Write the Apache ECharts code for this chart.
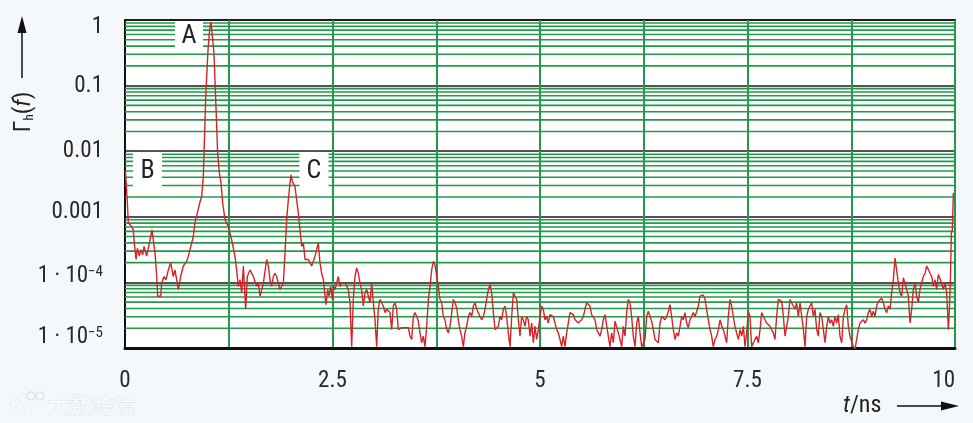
<!DOCTYPE html>
<html>
<head>
<meta charset="utf-8">
<title>Γh(f) over t</title>
<script src="https://cdn.jsdelivr.net/npm/echarts@6/dist/echarts.min.js"></script>
<style>
  html, body { margin: 0; padding: 0; background: #f5f8fb; }
  #chart { width: 973px; height: 423px; }
</style>
</head>
<body>
<div id="chart"></div>
<script>
// time axis in ns
const timeNs = [
  0.005, 0.020, 0.028, 0.040, 0.080, 0.100, 0.108, 0.120, 0.133, 0.149,
  0.173, 0.189, 0.213, 0.229, 0.261, 0.293, 0.325, 0.341, 0.365, 0.382,
  0.394, 0.430, 0.442, 0.470, 0.494, 0.522, 0.550, 0.582, 0.602, 0.643,
  0.671, 0.703, 0.743, 0.763, 0.803, 0.823, 0.843, 0.871, 0.904, 0.924,
  0.944, 0.952, 0.964, 0.976, 1.000, 1.016, 1.036, 1.052, 1.072, 1.096,
  1.116, 1.137, 1.157, 1.177, 1.205, 1.245, 1.285, 1.325, 1.345, 1.365,
  1.386, 1.406, 1.426, 1.454, 1.474, 1.506, 1.546, 1.586,

  1.606, 1.627, 1.647, 1.667, 1.687, 1.707, 1.727, 1.747, 1.767, 1.787,
  1.807, 1.827, 1.847, 1.867, 1.888, 1.908, 1.928, 1.948, 1.968, 1.988,
  2.000, 2.016, 2.032, 2.048, 2.068, 2.088, 2.108, 2.129, 2.149, 2.169,
  2.189, 2.209, 2.229, 2.249, 2.269, 2.289, 2.309, 2.329, 2.349, 2.369,
  2.390, 2.410, 2.422, 2.442, 2.458, 2.478, 2.498, 2.514, 2.530, 2.550,
  2.570, 2.590, 2.610, 2.631, 2.651, 2.671, 2.691, 2.711, 2.731, 2.751,
  2.771, 2.791, 2.811, 2.831, 2.851, 2.871, 2.892, 2.912, 2.932, 2.952,
  2.972, 2.992, 3.012, 3.032, 3.052, 3.072, 3.092, 3.112, 3.133, 3.153,
  3.173, 3.193, 3.213, 3.233, 3.253, 3.273, 3.293,

  3.313, 3.333, 3.353, 3.373, 3.394, 3.414, 3.434, 3.454, 3.474, 3.494,
  3.514, 3.534, 3.554, 3.574, 3.594, 3.614, 3.635, 3.655, 3.675, 3.695,
  3.715, 3.735, 3.755, 3.775, 3.795, 3.815, 3.835, 3.855, 3.876, 3.896,
  3.916, 3.936, 3.956, 3.976, 3.996, 4.016, 4.036, 4.056, 4.076, 4.096,
  4.116, 4.137, 4.157, 4.177, 4.197, 4.217, 4.237, 4.257, 4.277, 4.297,
  4.317, 4.337, 4.357, 4.378, 4.398, 4.418, 4.438, 4.458, 4.478, 4.498,
  4.518, 4.538, 4.558, 4.578, 4.598, 4.618, 4.639, 4.659, 4.679, 4.699,
  4.719, 4.739, 4.759, 4.779, 4.799, 4.819, 4.839, 4.859, 4.880, 4.900,
  4.920, 4.940, 4.960, 4.980,

  5.000, 5.020, 5.040, 5.060, 5.080, 5.100, 5.120, 5.141, 5.161, 5.181,
  5.201, 5.221, 5.241, 5.261, 5.281, 5.301, 5.321, 5.341, 5.361, 5.382,
  5.402, 5.422, 5.442, 5.462, 5.482, 5.502, 5.522, 5.542, 5.562, 5.582,
  5.602, 5.622, 5.643, 5.663, 5.683, 5.703, 5.723, 5.743, 5.763, 5.783,
  5.803, 5.823, 5.843, 5.863, 5.884, 5.904, 5.924, 5.944, 5.964, 5.984,
  6.004, 6.024, 6.044, 6.064, 6.084, 6.104, 6.124, 6.145, 6.165, 6.185,
  6.205, 6.225, 6.245, 6.265, 6.285, 6.305, 6.325, 6.345, 6.365, 6.386,
  6.406, 6.426, 6.446, 6.466, 6.486, 6.506, 6.526, 6.546, 6.566, 6.586,
  6.606, 6.627, 6.647, 6.667,

  6.687, 6.707, 6.727, 6.747, 6.767, 6.787, 6.807, 6.827, 6.847, 6.867,
  6.888, 6.908, 6.928, 6.948, 6.968, 6.988, 7.008, 7.028, 7.048, 7.068,
  7.088, 7.108, 7.129, 7.149, 7.169, 7.189, 7.209, 7.229, 7.249, 7.269,
  7.289, 7.309, 7.329, 7.349, 7.369, 7.390, 7.410, 7.430, 7.450, 7.470,
  7.490, 7.510, 7.530, 7.550, 7.570, 7.590, 7.610, 7.631, 7.651, 7.671,
  7.691, 7.711, 7.731, 7.751, 7.771, 7.791, 7.811, 7.831, 7.851, 7.871,
  7.892, 7.912, 7.932, 7.952, 7.972, 7.992, 8.012, 8.032, 8.052, 8.072,
  8.092, 8.112, 8.133, 8.153, 8.173, 8.193, 8.213, 8.233, 8.253, 8.273,
  8.293, 8.313, 8.333, 8.353,

  8.373, 8.394, 8.414, 8.434, 8.454, 8.474, 8.494, 8.514, 8.534, 8.554,
  8.574, 8.594, 8.614, 8.635, 8.655, 8.675, 8.695, 8.715, 8.735, 8.755,
  8.775, 8.795, 8.815, 8.835, 8.855, 8.876, 8.896, 8.916, 8.936, 8.956,
  8.976, 8.996, 9.016, 9.036, 9.056, 9.076, 9.096, 9.116, 9.137, 9.157,
  9.177, 9.197, 9.217, 9.237, 9.257, 9.277, 9.297, 9.317, 9.337, 9.357,
  9.378, 9.398, 9.418, 9.438, 9.458, 9.478, 9.498, 9.518, 9.538, 9.558,
  9.578, 9.598, 9.618, 9.639, 9.659, 9.679, 9.699, 9.719, 9.739, 9.759,
  9.779, 9.799, 9.819, 9.839, 9.859, 9.880, 9.900, 9.920, 9.932, 9.944,
  9.956, 9.968, 9.980, 9.988
];

// log10 of Γh(f) (same order as timeNs)
const gammaExp = [
  -2.30, -2.33, -2.77, -3.09, -3.15, -3.20, -3.35, -3.50, -3.65, -3.48,
  -3.60, -3.50, -3.58, -3.45, -3.60, -3.40, -3.20, -3.35, -3.60, -3.91,
  -4.21, -4.21, -4.01, -3.91, -3.96, -3.81, -3.70, -3.91, -3.81, -4.11,
  -3.91, -3.75, -3.68, -3.60, -3.40, -3.30, -3.09, -2.94, -2.77, -2.69,
  -2.38, -2.03, -1.52, -1.07, -0.46, -0.20, -0.03, -0.03, -0.51, -1.32,
  -2.03, -2.33, -2.49, -2.79, -3.04, -3.15, -3.35, -3.60, -3.81, -4.06,
  -3.96, -4.16, -3.75, -4.41, -3.91, -3.81, -3.91, -4.06,

  -4.01, -4.21, -4.24, -4.01, -4.01, -3.65, -3.75, -3.96, -4.06, -3.91,
  -3.86, -3.91, -4.01, -4.11, -4.13, -4.01, -3.55, -3.04, -2.74, -2.49,
  -2.36, -2.46, -2.44, -2.54, -2.54, -2.94, -3.20, -3.45, -3.40, -3.65,
  -3.63, -3.65, -3.70, -3.75, -3.78, -3.60, -3.50, -3.40, -3.70, -3.86,
  -3.96, -4.21, -4.34, -4.11, -4.21, -4.06, -4.26, -4.06, -4.11, -4.01,
  -3.91, -4.06, -4.01, -4.03, -4.01, -4.01, -4.11, -4.31, -4.98, -4.26,
  -3.91, -3.78, -3.86, -4.01, -4.11, -4.36, -4.16, -4.11, -4.21, -4.31,
  -4.01, -4.31, -4.57, -4.98, -4.41, -4.26, -4.31, -4.36, -4.46, -4.41,
  -4.44, -4.46, -4.72, -4.36, -4.31, -4.41, -4.72,

  -4.72, -4.69, -4.72, -4.69, -4.67, -4.69, -4.82, -4.87, -4.52, -4.46,
  -4.52, -4.59, -4.77, -4.92, -4.82, -4.98, -4.67, -4.26, -4.06, -3.81,
  -3.68, -3.73, -3.91, -4.06, -4.26, -4.31, -4.52, -4.57, -4.72, -4.77,
  -4.67, -4.46, -4.26, -4.31, -4.39, -4.57, -4.72, -4.82, -4.98, -4.77,
  -4.67, -4.52, -4.46, -4.52, -4.36, -4.31, -4.41, -4.46, -4.52, -4.57,
  -4.52, -4.41, -4.26, -4.11, -4.03, -4.16, -4.46, -4.72, -4.72, -4.67,
  -4.52, -4.57, -4.41, -4.36, -4.52, -4.77, -4.98, -4.52, -4.16, -4.14,
  -4.26, -4.57, -4.82, -4.52, -4.57, -4.67, -4.52, -4.57, -4.82, -4.62,
  -4.92, -4.67, -4.87, -4.72,

  -4.52, -4.36, -4.41, -4.57, -4.52, -4.62, -4.49, -4.46, -4.52, -4.62,
  -4.72, -4.77, -4.87, -4.98, -4.82, -4.98, -4.77, -4.62, -4.46, -4.44,
  -4.49, -4.57, -4.59, -4.62, -4.64, -4.57, -4.52, -4.41, -4.31, -4.29,
  -4.36, -4.49, -4.52, -4.57, -4.72, -4.77, -4.82, -4.72, -4.57, -4.49,
  -4.52, -4.82, -4.98, -4.77, -4.92, -4.59, -4.57, -4.77, -4.87, -4.98,
  -4.67, -4.82, -4.46, -4.26, -4.31, -4.52, -4.82, -4.98, -4.62, -4.52,
  -4.77, -4.98, -4.98, -4.87, -4.52, -4.44, -4.46, -4.59, -4.72, -4.87,
  -4.84, -4.92, -4.62, -4.52, -4.52, -4.57, -4.52, -4.44, -4.34, -4.52,
  -4.72, -4.87, -4.77, -4.82,

  -4.67, -4.52, -4.57, -4.46, -4.62, -4.69, -4.57, -4.52, -4.46, -4.52,
  -4.44, -4.36, -4.21, -4.19, -4.19, -4.26, -4.41, -4.57, -4.72, -4.82,
  -4.98, -4.87, -4.82, -4.72, -4.57, -4.67, -4.72, -4.82, -4.92, -4.52,
  -4.26, -4.36, -4.52, -4.67, -4.77, -4.87, -4.72, -4.82, -4.67, -4.98,
  -4.77, -4.44, -4.52, -4.98, -4.92, -4.87, -4.82, -4.92, -4.72, -4.46,
  -4.52, -4.57, -4.62, -4.59, -4.67, -4.72, -4.77, -4.87, -4.52, -4.26,
  -4.26, -4.29, -4.52, -4.82, -4.67, -4.52, -4.26, -4.26, -4.36, -4.41,
  -4.31, -4.52, -4.31, -4.52, -4.72, -4.98, -4.52, -4.41, -4.36, -4.31,
  -4.52, -4.41, -4.72, -4.82,

  -4.46, -4.52, -4.72, -4.92, -4.67, -4.52, -4.62, -4.57, -4.67, -4.52,
  -4.62, -4.49, -4.82, -4.92, -4.52, -4.41, -4.34, -4.67, -4.82, -4.90,
  -4.98, -5.02, -5.02, -4.72, -4.62, -4.59, -4.57, -4.62, -4.57, -4.46,
  -4.41, -4.52, -4.44, -4.52, -4.36, -4.29, -4.26, -4.24, -4.31, -4.41,
  -4.46, -4.36, -4.41, -4.16, -3.96, -3.63, -3.81, -4.01, -4.16, -4.21,
  -3.93, -3.91, -4.11, -4.21, -4.62, -4.41, -4.11, -4.01, -4.21, -4.31,
  -4.11, -4.01, -3.91, -3.86, -3.75, -3.75, -3.86, -3.91, -4.06, -3.96,
  -4.11, -3.88, -3.91, -4.01, -4.11, -4.01, -4.16, -4.72, -4.41, -4.01,
  -3.25, -3.20, -2.64, -2.66
];

// tick labels
const xTickLabels = ['0', '2.5', '5', '7.5', '10'];
const yTickMain = ['1 · 10', '1 · 10', '0.001', '0.01', '0.1', '1']; // 1e-5 .. 1
const yTickSup = ['−5', '−4', '', '', '', ''];

// minor grid values inside each decade
const decades = [1e-5, 1e-4, 1e-3, 1e-2, 1e-1];
const minorSteps = [2, 3, 4, 5, 6, 7, 8, 9];

// peak markers
const markerNames = ['A', 'B', 'C'];
const markerT = [0.771, 0.271, 2.277];
const markerGamma = [0.565, 0.0049, 0.0049];
const markerSize = [[28, 29], [29, 37], [29, 37]];

const GREEN = '#239a4b';
const RED = '#d8222a';
const FONT = "'Liberation Sans Narrow', 'Roboto Condensed', 'DejaVu Sans Condensed', 'Liberation Sans', sans-serif";

const chart = echarts.init(document.getElementById('chart'));

const traceData = timeNs.map((t, i) => [t, Math.pow(10, gammaExp[i])]);

// horizontal minor grid as one broken line series spanning the x range
const minorGrid = [];
decades.forEach(d => minorSteps.forEach(m => {
  minorGrid.push([0, d * m], [10, d * m], ['-', '-']);
}));

const option = {
  animation: false,
  backgroundColor: '#f5f8fb',
  grid: {
    left: 125, right: 18, top: 20, bottom: 75,
    show: true,
    backgroundColor: '#fff',
    borderColor: '#2a2a2a',
    borderWidth: 2
  },
  xAxis: {
    type: 'value',
    min: 0,
    max: 10,
    interval: 1.25,
    axisLine: { lineStyle: { color: '#111', width: 3 } },
    axisTick: { show: false },
    axisLabel: {
      margin: 22,
      fontFamily: FONT,
      fontSize: 23,
      color: '#2a2a2a',
      alignMaxLabel: 'right',
      formatter: v => (xTickLabels.includes(String(v)) ? String(v) : '')
    },
    splitLine: { show: true, lineStyle: { color: GREEN, width: 2 } }
  },
  yAxis: {
    type: 'log',
    logBase: 10,
    min: 1e-5,
    max: 1,
    axisLine: { show: true, lineStyle: { color: '#111', width: 2 } },
    axisTick: { show: false },
    axisLabel: {
      margin: 22,
      fontFamily: FONT,
      fontSize: 23,
      color: '#2a2a2a',
      formatter: v => {
        const i = Math.round(Math.log10(v)) + 5;
        if (i < 0 || i > 5) return '';
        return '{r' + i + '|' + yTickMain[i] + '}' + (yTickSup[i] ? '{s|' + yTickSup[i] + '}' : '');
      },
      rich: {
        r0: { fontFamily: FONT, fontSize: 23, color: '#2a2a2a', padding: [0, 0, 22, 0] },
        r1: { fontFamily: FONT, fontSize: 23, color: '#2a2a2a', padding: [0, 0, 12, 0] },
        r2: { fontFamily: FONT, fontSize: 23, color: '#2a2a2a', padding: [0, 0, 10, 0] },
        r3: { fontFamily: FONT, fontSize: 23, color: '#2a2a2a' },
        r4: { fontFamily: FONT, fontSize: 23, color: '#2a2a2a', padding: [2, 0, 0, 0] },
        r5: { fontFamily: FONT, fontSize: 23, color: '#2a2a2a', padding: [14, 0, 0, 0] },
        s: { fontFamily: FONT, fontSize: 15, color: '#2a2a2a', verticalAlign: 'top' }
      }
    },
    splitLine: { show: true, lineStyle: { color: '#1a1a1a', width: 1.6 } }
  },
  series: [
    {
      name: 'minor grid',
      type: 'line',
      data: minorGrid,
      z: 1,
      silent: true,
      showSymbol: false,
      connectNulls: false,
      lineStyle: { color: GREEN, width: 1.6 }
    },
    {
      name: 'markers',
      type: 'scatter',
      z: 3,
      silent: true,
      symbol: 'rect',
      data: markerNames.map((n, i) => ({
        name: n,
        value: [markerT[i], markerGamma[i]],
        symbolSize: markerSize[i]
      })),
      itemStyle: { color: '#fff', opacity: 1 },
      label: {
        show: true,
        position: 'inside',
        formatter: p => p.name,
        fontFamily: FONT,
        fontSize: 26,
        color: '#222'
      }
    },
    {
      name: 'Γh(f)',
      type: 'line',
      z: 4,
      data: traceData,
      showSymbol: false,
      clip: true,
      sampling: 'none',
      lineStyle: { color: RED, width: 1.4 },
      silent: true
    }
  ],
  graphic: [
    // y axis name with arrow
    {
      type: 'line',
      shape: { x1: 22, y1: 78, x2: 22, y2: 30 },
      style: { stroke: '#111', lineWidth: 1.5 }
    },
    {
      type: 'polygon',
      shape: { points: [[22, 16], [17.5, 33], [26.5, 33]] },
      style: { fill: '#111' }
    },
    {
      type: 'text',
      x: 24,
      y: 112,
      rotation: Math.PI / 2,
      style: {
        text: '{g|Γ}{h|h}{g|(}{f|f}{g|)}',
        align: 'center',
        verticalAlign: 'middle',
        rich: {
          g: { fontFamily: FONT, fontSize: 24, fill: '#222' },
          h: { fontFamily: FONT, fontSize: 13, fill: '#222', verticalAlign: 'bottom' },
          f: { fontFamily: FONT, fontSize: 24, fontStyle: 'italic', fill: '#222' }
        }
      }
    },
    // x axis name with arrow
    {
      type: 'text',
      x: 843,
      y: 406,
      style: {
        text: '{t|t}{n|/ns}',
        align: 'left',
        verticalAlign: 'middle',
        rich: {
          t: { fontFamily: FONT, fontSize: 24, fontStyle: 'italic', fill: '#222' },
          n: { fontFamily: FONT, fontSize: 24, fill: '#222' }
        }
      }
    },
    {
      type: 'line',
      shape: { x1: 897, y1: 406, x2: 944, y2: 406 },
      style: { stroke: '#111', lineWidth: 1.5 }
    },
    {
      type: 'polygon',
      shape: { points: [[959, 406], [941, 401.5], [941, 410.5]] },
      style: { fill: '#111' }
    },
    // watermark
    {
      type: 'text',
      x: 9,
      y: 405,
      style: {
        text: 'K',
        verticalAlign: 'middle',
        font: "26px 'Noto Sans'",
        fill: '#fbfcfd',
        stroke: '#dde2e7',
        lineWidth: 1
      }
    },
    {
      type: 'circle',
      shape: { cx: 31, cy: 396, r: 4 },
      style: { fill: 'none', stroke: '#dde2e7', lineWidth: 1.5 }
    },
    {
      type: 'circle',
      shape: { cx: 40, cy: 396, r: 4 },
      style: { fill: 'none', stroke: '#dde2e7', lineWidth: 1.5 }
    },
    {
      type: 'text',
      x: 48,
      y: 405,
      style: {
        text: '大数跨境',
        verticalAlign: 'middle',
        font: "22px 'Noto Sans CJK SC'",
        fill: '#fbfcfd',
        stroke: '#dde2e7',
        lineWidth: 1
      }
    }
  ]
};

chart.setOption(option);
window.addEventListener('resize', () => chart.resize());
</script>
</body>
</html>
